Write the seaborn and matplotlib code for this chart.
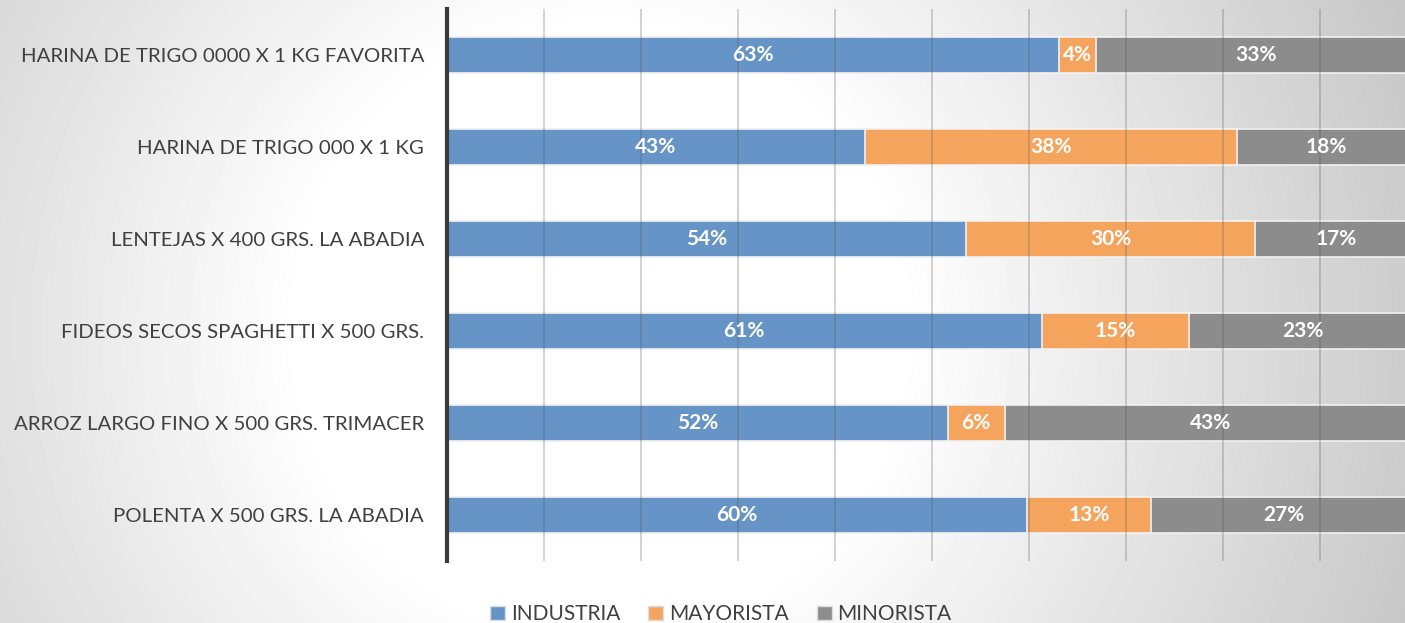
import numpy as np
import matplotlib
matplotlib.use("Agg")
import matplotlib.pyplot as plt
import seaborn as sns
from matplotlib.patches import Patch

productos = [
    "HARINA DE TRIGO 0000 X 1 KG FAVORITA",
    "HARINA DE TRIGO 000 X 1 KG",
    "LENTEJAS X 400 GRS. LA ABADIA",
    "FIDEOS SECOS SPAGHETTI X 500 GRS.",
    "ARROZ LARGO FINO X 500 GRS. TRIMACER",
    "POLENTA X 500 GRS. LA ABADIA",
]
industria = [63.1, 43.1, 53.5, 61.3, 51.6, 59.8]
mayorista = [3.8, 38.3, 29.8, 15.2, 5.9, 12.8]
minorista = [33.1, 18.4, 16.7, 23.4, 42.5, 27.4]
etiquetas_ind = ["63%", "43%", "54%", "61%", "52%", "60%"]
etiquetas_may = ["4%", "38%", "30%", "15%", "6%", "13%"]
etiquetas_min = ["33%", "18%", "17%", "23%", "43%", "27%"]
series = ["INDUSTRIA", "MAYORISTA", "MINORISTA"]
colores = ["#6794C7", "#F5A45E", "#8C8C8C"]

sns.set_style("white")
plt.rcParams["font.family"] = ["Lato", "DejaVu Sans"]

W, H = 1405, 623
fig = plt.figure(figsize=(W / 100, H / 100), dpi=100)

# fondo con degradado radial
bg = fig.add_axes([0, 0, 1, 1], zorder=-10)
yy, xx = np.mgrid[0:H, 0:W]
d = np.sqrt((xx - 600.0) ** 2 + (yy - 330.0) ** 2)
val = np.clip(255 - 0.1 * np.clip(d - 300, 0, None), 0, 255) / 255.0
bg.imshow(val, cmap="gray", vmin=0, vmax=1, aspect="auto", interpolation="bilinear")
bg.axis("off")

ax = fig.add_axes([447 / W, 1 - 561 / H, (W - 447) / W, 552 / H])
ax.set_facecolor("none")

ind = np.array(industria)
may = np.array(mayorista)
mno = np.array(minorista)
acum2 = ind + may
acum3 = acum2 + mno

for vals, col in [(acum3, colores[2]), (acum2, colores[1]), (ind, colores[0])]:
    sns.barplot(x=vals, y=productos, orient="h", color=col, saturation=1,
                width=0.39, edgecolor="#f2f2f2", linewidth=1.2, ax=ax, zorder=2)

ax.set_xlim(0, (W - 447) / 970 * 100)
ax.set_ylim(5.5, -0.5)
ax.set_xticks(range(0, 100, 10))
ax.set_xticklabels([])
ax.tick_params(axis="x", length=0)
ax.tick_params(axis="y", length=0, pad=16.5, labelsize=14.7, labelcolor="#404040")
ax.grid(axis="x", color="#555555", alpha=0.3, linewidth=1.2, zorder=3)
ax.set_axisbelow(False)
for s in ["top", "right", "bottom"]:
    ax.spines[s].set_visible(False)
ax.spines["left"].set_color("#3a3a3a")
ax.spines["left"].set_linewidth(3)
ax.spines["left"].set_zorder(5)
ax.set_xlabel("")
ax.set_ylabel("")

for i in range(len(productos)):
    for centro, txt in [(ind[i] / 2, etiquetas_ind[i]),
                        (ind[i] + may[i] / 2, etiquetas_may[i]),
                        (acum2[i] + mno[i] / 2, etiquetas_min[i])]:
        ax.text(centro, i, txt, ha="center", va="center", color="white",
                fontsize=15, fontweight="bold", zorder=6)

handles = [Patch(facecolor=c, edgecolor="#dddddd", label=s) for s, c in zip(series, colores)]
fig.legend(handles=handles, loc="center", bbox_to_anchor=(0.513, 0.014), ncol=3,
           frameon=False, fontsize=15, labelcolor="#404040", handlelength=0.72,
           handleheight=0.72, handletextpad=0.26, columnspacing=1.35)

fig.savefig("out.png", dpi=100)
